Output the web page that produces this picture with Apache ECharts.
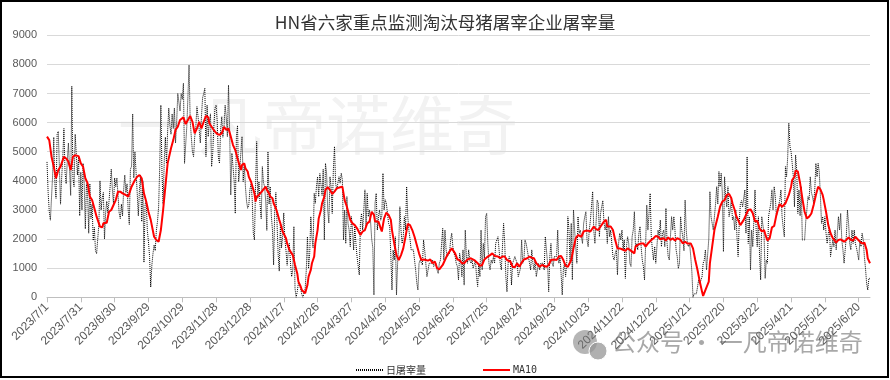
<!DOCTYPE html>
<html>
<head>
<meta charset="utf-8">
<script src="https://cdn.jsdelivr.net/npm/echarts@6/dist/echarts.min.js"></script>
<style>html,body{margin:0;padding:0;background:#fff;}#c{width:890px;height:380px;}</style>
</head>
<body>
<div id="c"></div>
<script>
const titleText = 'HN省六家重点监测淘汰母猪屠宰企业屠宰量';
const seriesNames = ['日屠宰量', 'MA10'];
const startDate = [2023, 7, 1];
const yTicks = [0, 1000, 2000, 3000, 4000, 5000, 6000, 7000, 8000, 9000];

// daily slaughter volume, one value per day from 2023/7/1
const dailyValues = [
4650,3600,2950,2650,2600,4200,5500,3900,3400,5600,
5700,5750,3200,4100,4800,5800,4300,3900,4700,5300,
4400,3500,7250,4100,3800,5600,4900,4200,4800,2800,
4300,3000,4600,3900,2350,3900,3600,2200,3900,2700,
3200,1950,2400,1600,1500,2000,2500,4000,3000,3400,
3600,2000,2900,3300,2900,3300,3800,4400,3700,3200,
4100,3800,4100,3500,2900,2700,3200,2800,3700,4200,
3600,3900,3000,2500,4400,4500,6300,4100,5000,4300,
3600,2800,3700,4200,2600,4000,1200,3200,3300,2300,
1900,1400,350,1100,1500,1800,1600,2300,2600,3100,
4500,6600,4300,3200,4700,5500,4600,5700,6500,5900,
5600,6300,5800,6500,5300,6000,7000,7050,6400,7000,
6800,7350,4600,4550,5860,6890,7980,6090,5500,5000,
4830,5500,5860,6550,6200,5750,5300,6200,6850,7000,
7180,4830,6600,5520,6000,6300,4490,4950,5860,6500,
6600,6030,4800,4600,5750,6200,5500,5860,6600,6200,
5520,7290,5750,3515,4950,4490,4000,2880,5520,5900,
3970,4400,5000,5520,3970,4550,3800,3300,3060,3170,
3700,3900,3400,2200,1970,3800,5350,3400,3970,3200,
2700,4490,3950,3800,3300,2300,5000,3200,3800,2800,
2300,1110,3000,3600,2600,1500,900,2500,1700,2100,
2900,2000,1600,1100,1600,1850,1150,710,950,2430,
300,0,200,500,400,300,100,0,50,300,
940,2080,990,1500,2770,2080,1700,3570,3230,3800,
4140,3460,4250,4260,3500,4400,1970,4600,4260,3000,
2550,4140,3800,2880,4370,5180,3920,3690,3920,4140,
3920,4260,4030,1970,3000,1850,3460,2540,2310,1740,
2770,2310,1620,2430,1850,1400,1400,770,2540,2880,
2310,3000,3690,2430,3570,2770,3000,2600,2000,1700,
80,3240,3570,2310,2770,3000,2650,2800,4260,3000,
3350,3230,2880,2540,2430,1400,250,1620,1280,2080,
80,1170,1850,3110,2310,1850,2080,2770,2310,3800,
2770,2310,2000,1630,1630,1630,1280,940,500,250,
1170,1280,1220,1110,1970,1630,1170,710,940,1170,
1170,1170,1280,1060,1100,1170,940,820,1170,1280,
1280,2370,1280,2310,1630,1400,1400,1510,1970,2200,
1740,1510,1400,1170,1060,600,1510,1280,710,1630,
420,2310,1400,1170,1630,1280,1170,1280,1000,940,
1280,710,370,1170,710,2310,940,1850,1340,2770,
2880,1850,1170,940,1280,1170,1400,1170,1850,1970,
2080,2080,1170,940,1740,2540,1850,710,190,1170,
1400,1280,420,1170,1280,1400,1280,1170,710,710,
1000,1970,1170,1280,1970,1850,1630,1400,1170,940,
1630,1170,940,1280,710,710,1170,940,1170,1170,
1170,940,2080,2080,1170,190,1400,1850,1170,1060,
1400,1400,1400,2310,1170,1400,820,80,940,1170,
710,1170,2770,2310,1170,2540,600,3000,2310,2310,
1170,2770,2200,2310,2080,1850,2540,2770,2940,1970,
1740,2310,2650,2600,3630,2310,1850,2540,3340,3230,
2080,2880,2900,3320,2600,2310,2540,1850,2770,2080,
2310,1850,1400,1280,1500,1630,770,1850,2200,1970,
2310,1630,1970,650,1740,2080,1850,1170,1060,2080,
2310,2940,1740,1850,1630,2200,2430,1740,1280,1060,
600,1850,3170,2310,2880,3570,2080,1630,1280,1740,
1170,1740,2310,2080,2650,1740,2200,2310,1740,3060,
1850,1400,1280,2080,2770,2310,2770,2310,1630,1400,
990,1170,2770,2310,2080,1600,3340,2310,1850,1740,
1850,1400,880,0,120,120,120,350,600,470,
480,700,1170,1280,1630,940,940,2000,3630,2770,
2540,2310,2770,3200,3800,3200,4320,3800,4260,3600,
1570,4140,3460,3100,3800,2770,3000,3400,2660,2770,
2310,3000,2080,1400,2540,3200,3320,3110,3110,3690,
2200,4830,1850,2770,940,2310,1740,2650,3690,2310,
1740,2770,1500,600,2770,2770,2200,650,1280,1170,
2770,2770,3230,3690,3000,3800,3460,2770,3000,3000,
3340,3690,2770,2400,2080,4490,4140,4830,5980,5180,
5000,4600,4140,3110,4890,4370,2880,3690,2800,3800,
1970,1970,1970,2600,3000,3460,3340,4140,3600,3460,
3230,3690,4600,4140,4600,4300,3500,2540,2770,2310,
2770,2200,1850,2200,2400,1400,1400,1970,1740,2310,
1630,2200,2770,2310,2880,1970,1630,1170,1230,2100,
3000,2540,1850,1630,2310,1850,2310,1850,1700,1500,
1280,1970,1740,2200,1970,1400,1000,480,250,650,
650
];

// MA10 line, read at these day offsets (from 2023/7/1)
const maDays = [
0,2,4,6,8,10,12,15,17,19,21,23,25,28,30,32,34,36,38,40,42,44,47,49,50,53,55,57,59,61,63,65,67,70,72,73,75,78,80,82,84,86,88,90,92,95,97,99,101,103,105,107,110,112,114,116,
118,121,123,125,127,129,131,133,135,137,139,141,143,144,147,149,151,153,155,157,159,161,163,165,167,169,170,172,173,175,176,178,179,181,182,184,185,186,188,189,191,192,194,195,197,198,200,201,203,204,206,207,209,210,212,213,215,216,218,219,220,222,223,225,226,229,231,232,234,235,237,238,240,241,243,244,246,247,
249,251,253,255,257,260,262,264,266,269,271,273,275,278,280,282,284,286,288,290,291,294,296,297,299,301,303,305,306,308,310,312,314,316,318,320,322,324,326,328,330,332,334,336,338,340,342,344,346,348,351,353,355,357,359,362,364,366,368,
370,373,376,379,382,384,386,388,391,393,395,397,400,402,404,406,408,411,413,415,417,419,421,423,426,428,430,432,434,437,439,441,443,445,447,450,452,454,456,458,460,462,465,467,469,471,474,476,478,480,482,485,487,489,491,494,496,
497,500,502,504,506,508,510,513,515,517,519,521,522,524,527,529,531,533,536,538,540,542,544,547,549,551,553,555,557,559,562,564,566,568,571,573,575,577,579,581,582,584,587,588,590,592,595,597,599,601,603,605,607,608,610,611,613,615,
618,620,622,624,626,628,630,632,634,636,637,639,641,643,645,647,649,650,652,655,656,658,660,661,663,664,666,668,670,672,674,676,678,680,682,684,686,688,689,691,693,695,697,700,702,704,707,709,711,713,715,717,718,721,723,725,727,728,730
];
const maValues = [
5520,5400,4830,4490,4090,4370,4490,4830,4770,4660,4370,4830,4880,4850,4600,4490,4090,3920,3460,3340,3060,2770,2430,2400,2540,2560,2940,3000,3170,3340,3630,3630,3570,3515,3460,3570,3800,4030,4140,4200,4090,3570,3290,2940,2660,2080,1970,1910,2310,3000,3800,4600,5120,5400,5750,5860,
6090,6180,5950,6090,6230,6030,5630,5800,6030,5800,6030,6230,6180,5980,5800,5690,5610,5580,5630,5860,5750,5800,5520,5230,5060,4770,4720,4370,4550,4600,4430,4320,4140,3970,3920,3570,3290,3460,3515,3570,3660,3690,3800,3690,3570,3460,3400,3230,3060,2940,2660,2540,2260,2200,2030,1850,1630,1570,1450,1400,1110,820,540,370,250,140,420,710,940,1170,1400,1850,2310,2710,3000,3230,3460,3690,
3780,3690,3550,3630,3740,3780,3800,3340,3110,2660,2540,2480,2370,2140,2260,2310,2540,2600,2940,2830,2600,2600,2370,2260,2710,2910,2830,2660,2310,1850,1450,1280,1450,1680,2080,2520,2480,2310,2080,1800,1510,1280,1300,1280,1260,1300,1170,1230,1000,960,1110,1280,1450,1570,1680,1510,1300,1280,1170,
1170,1300,1340,1280,1170,1080,1110,1300,1400,1450,1510,1420,1400,1340,1400,1400,1280,1230,1050,1030,1170,1050,1190,1300,1340,1400,1360,1340,1170,1050,1110,1080,1050,1110,1280,1300,1280,1400,1420,1280,1080,1050,1280,1680,2030,2140,2080,2260,2290,2290,2260,2430,2340,2310,2430,2600,2660,
2430,2430,2310,1970,1680,1680,1650,1600,1680,1630,1570,1510,1740,1800,1850,1850,1740,1850,1970,2030,2110,2080,1990,2030,1950,2060,1970,2030,1950,2030,1970,1850,1910,1850,1850,1680,1280,940,540,195,46,250,540,1170,1740,2310,2770,3110,3290,3340,3515,3550,3400,3230,3000,2830,2660,2480,
2660,2830,3000,3020,2890,2600,2630,2370,2260,2310,2180,1950,2030,2400,2450,2830,3110,3200,3110,3230,3170,3515,3800,4030,4140,4350,4320,3920,3400,2940,2710,2770,2880,3170,3515,3800,3710,3515,3340,2940,2480,2200,2030,1880,1970,1990,1910,1970,2060,1970,1950,2080,2110,1910,1850,1880,1630,1340,1170
];

const categories = [];
{
  const t0 = Date.UTC(startDate[0], startDate[1]-1, startDate[2]);
  for (let i = 0; i < dailyValues.length; i++) {
    const d = new Date(t0 + i*86400000);
    categories.push(d.getUTCFullYear() + '/' + (d.getUTCMonth()+1) + '/' + d.getUTCDate());
  }
}

const chart = echarts.init(document.getElementById('c'), null, {renderer:'canvas'});
chart.setOption({
  animation: false,
  backgroundColor: '#fff',
  title: {
    text: titleText, left: 'center', top: 9,
    textStyle: {fontSize: 17.5, fontWeight: 'normal', color: '#333', fontFamily: 'Noto Sans CJK SC'}
  },
  legend: {
    data: [
      {name: seriesNames[0], textStyle:{fontFamily:'Noto Sans CJK SC'}},
      {name: seriesNames[1], textStyle:{fontFamily:'DejaVu Sans Mono'}}
    ],
    left: 350, top: 360, itemWidth: 27, itemHeight: 10, itemGap: 56,
    itemStyle: {opacity: 0},
    textStyle: {fontSize: 10, color: '#333', padding:[0,0,0,-2]}
  },
  grid: {left: 47, right: 20, top: 35.3, bottom: 82.7, containLabel: false},
  xAxis: {
    type: 'category', data: categories, boundaryGap: false,
    axisLine: {lineStyle: {color: '#bfbfbf'}},
    axisTick: {show: true, interval: 29, length: 5, lineStyle:{color:'#bfbfbf'}},
    axisLabel: {interval: 29, rotate: 45, margin: 8, fontSize: 12, color: '#595959', fontFamily: 'Liberation Sans'},
    splitLine: {show: false}
  },
  yAxis: {
    type: 'value', min: yTicks[0], max: yTicks[yTicks.length-1], interval: 1000,
    axisLine: {show: false}, axisTick: {show: false},
    axisLabel: {fontSize: 11, color: '#595959', margin: 10, fontFamily: 'Liberation Sans', formatter: v => String(v)},
    splitLine: {lineStyle: {color: '#d9d9d9', width: 1}}
  },
  graphic: [
    {type:'text', z:-10, left:118, top:93, style:{text:'一', font:'64px "Noto Sans CJK SC"', fill:'#f2f2f2'}},
    {type:'text', z:-10, left:198, top:93, style:{text:'凡帝诺维奇', font:'64px "Noto Sans CJK SC"', fill:'#f2f2f2'}},
    {type:'circle', z:100, shape:{cx:585, cy:342, r:12}, style:{fill:'rgba(120,120,120,0.55)'}},
    {type:'circle', z:101, shape:{cx:598, cy:351, r:9}, style:{fill:'rgba(150,150,150,0.75)', stroke:'#fff', lineWidth:1}},
    {type:'text', z:100, left:612, top:330, style:{text:'公众号 · 一凡帝诺维奇', font:'24px "Noto Sans CJK SC"', fill:'rgba(110,110,110,0.6)'}},
    {type:'rect', z:200, shape:{x:1, y:1, width:887, height:376}, style:{fill:'none', stroke:'#000', lineWidth:2}}
  ],
  series: [
    {
      name: seriesNames[0], type: 'line', data: dailyValues, symbol: 'none', z: 2,
      lineStyle: {color: '#000', width: 1, type: [1, 1]}, itemStyle:{color:'#000'}
    },
    {
      name: seriesNames[1], type: 'line', data: maDays.map((d, i) => [d, maValues[i]]), symbol: 'none', z: 3,
      lineStyle: {color: '#ff0000', width: 2}, itemStyle:{color:'#ff0000'}
    }
  ]
});
</script>
</body>
</html>
